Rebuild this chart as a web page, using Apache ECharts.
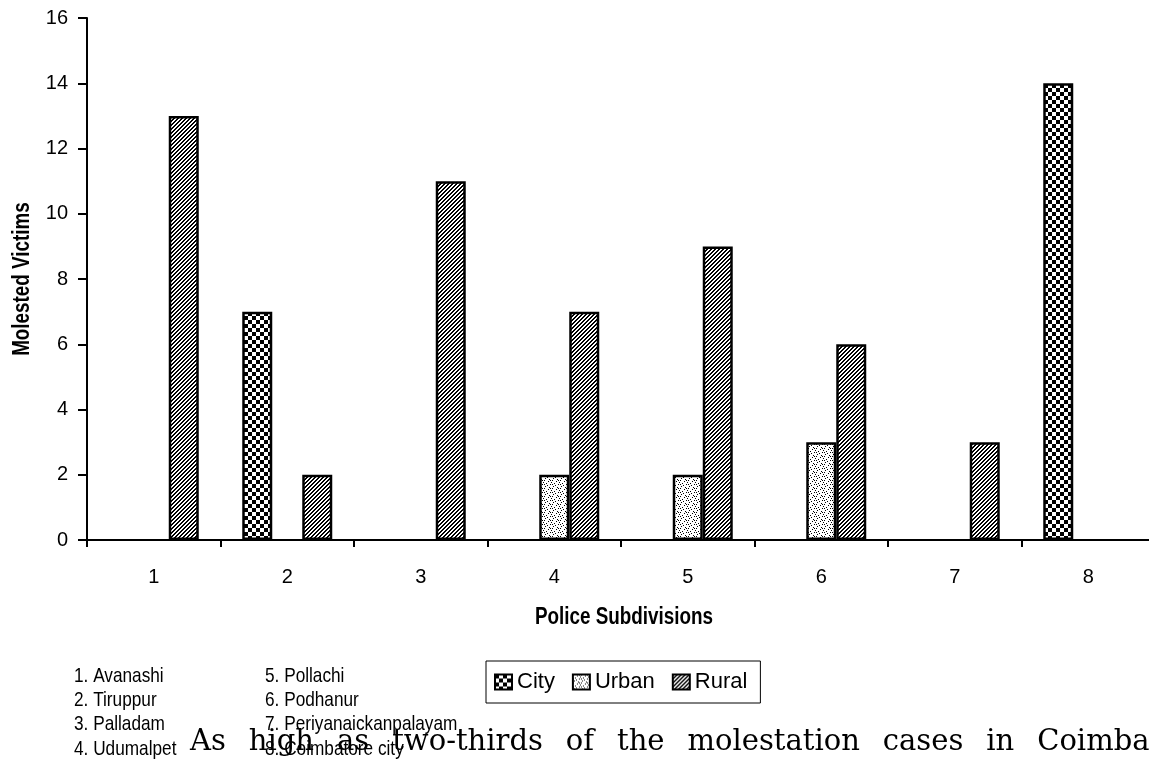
<!DOCTYPE html>
<html>
<head>
<meta charset="utf-8">
<script src="https://cdn.jsdelivr.net/npm/echarts@6/dist/echarts.min.js"></script>
<style>
  html, body { margin: 0; padding: 0; background: #fff; }
  #chart { width: 1149px; height: 760px; }
</style>
</head>
<body>
<div id="chart"></div>
<script>
// Police subdivisions of Coimbatore district and molested victims by area type
const categories = ['1', '2', '3', '4', '5', '6', '7', '8'];
const cityValues  = [null, 7, null, null, null, null, null, 14];
const urbanValues = [null, null, null, 2, 2, 3, null, null];
const ruralValues = [13, 2, 11, 7, 9, 6, 3, null];
const yTicks = { min: 0, max: 16, interval: 2 };
const xTitle = 'Police Subdivisions';
const yTitle = 'Molested Victims';
const subdivisionsLeft  = ['1. Avanashi', '2. Tiruppur', '3. Palladam', '4. Udumalpet'];
const subdivisionsRight = ['5. Pollachi', '6. Podhanur', '7. Periyanaickanpalayam', '8. Coimbatore city'];
const bodyWords = ['As', 'high', 'as', 'two-thirds', 'of', 'the', 'molestation', 'cases', 'in', 'Coimbatore'];

const SANS = '"Liberation Sans", Arial, sans-serif';
const SERIF_FONT = '29px "DejaVu Serif", serif';
const NARROW_SCALE = 0.82;   // condensed look for the sans labels

// Monochrome fill patterns
function makeTile(size, draw) {
  const c = document.createElement('canvas');
  c.width = size; c.height = size;
  const ctx = c.getContext('2d');
  ctx.fillStyle = '#fff';
  ctx.fillRect(0, 0, size, size);
  ctx.fillStyle = '#000';
  draw(ctx);
  return c;
}
const checkerTile = makeTile(8, ctx => {
  ctx.fillRect(0, 0, 4, 4);
  ctx.fillRect(4, 4, 4, 4);
});
const hatchTile = makeTile(4, ctx => {
  // diagonal stripes rising to the right, 2px thick
  for (let i = 0; i < 4; i++) {
    ctx.fillRect(3 - i, i, 1, 1);
    ctx.fillRect((4 - i) % 4, i, 1, 1);
  }
});
const dotTile = makeTile(8, ctx => {
  [[0,0],[4,1],[2,3],[6,4],[1,6],[5,7],[7,2],[3,5],[6,0],[0,4]].forEach(p => ctx.fillRect(p[0], p[1], 1, 1));
});
const pattern = tile => ({ image: tile, repeat: 'repeat' });

const barStyle = tile => ({
  color: pattern(tile),
  borderColor: '#000',
  borderWidth: 2.5
});

const axisFont = { fontFamily: SANS, color: '#000' };

// Condensed sans text element
const narrowText = (text, x, y, font, extra) => Object.assign({
  type: 'text',
  x: x,
  y: y,
  scaleX: NARROW_SCALE,
  style: { text: text, font: font + ' ' + SANS, fill: '#000', verticalAlign: 'middle' }
}, extra || {});

// Key to the subdivision numbers, two columns
const listText = (lines, x) => lines.map((t, i) => narrowText(t, x, 676 + i * 24.3, '21px'));

// Running sentence laid out word by word with wide spacing
function sentenceWords(words, startX, y, gap) {
  const ctx = document.createElement('canvas').getContext('2d');
  ctx.font = SERIF_FONT;
  let x = startX;
  return words.map(w => {
    const el = { type: 'text', x: x, y: y, style: { text: w, font: SERIF_FONT, fill: '#000', verticalAlign: 'middle' } };
    x += ctx.measureText(w).width + gap;
    return el;
  });
}

const chart = echarts.init(document.getElementById('chart'), null, { renderer: 'canvas' });

chart.setOption({
  animation: false,
  backgroundColor: '#fff',
  grid: { left: 87, top: 18, width: 1068, height: 522, containLabel: false, outerBoundsMode: 'none' },
  legend: {
    left: 486,
    top: 661,
    itemWidth: 17,
    itemHeight: 15,
    itemGap: 17,
    padding: [10, 13, 10, 8],
    borderColor: '#000',
    borderWidth: 1,
    icon: 'rect',
    textStyle: { fontSize: 22, fontFamily: SANS, color: '#000' },
    data: ['City', 'Urban', 'Rural']
  },
  xAxis: {
    type: 'category',
    data: categories,
    axisLine: { lineStyle: { color: '#000', width: 2 } },
    axisTick: { show: true, length: 7, inside: false, lineStyle: { color: '#000', width: 2 } },
    axisLabel: Object.assign({ fontSize: 20, margin: 27 }, axisFont)
  },
  yAxis: {
    type: 'value',
    min: yTicks.min,
    max: yTicks.max,
    interval: yTicks.interval,
    splitLine: { show: false },
    axisLine: { show: true, lineStyle: { color: '#000', width: 2 } },
    axisTick: { show: true, length: 9, lineStyle: { color: '#000', width: 2 } },
    axisLabel: Object.assign({ fontSize: 20, margin: 19 }, axisFont)
  },
  series: [
    { name: 'City',  type: 'bar', data: cityValues,  barGap: '0%', barWidth: 30, itemStyle: barStyle(checkerTile) },
    { name: 'Urban', type: 'bar', data: urbanValues, barGap: '0%', barWidth: 30, itemStyle: barStyle(dotTile) },
    { name: 'Rural', type: 'bar', data: ruralValues, barGap: '0%', barWidth: 30, itemStyle: barStyle(hatchTile) }
  ],
  graphic: [
    narrowText(xTitle, 624, 618, 'bold 23px', { style: { text: xTitle, font: 'bold 23px ' + SANS, fill: '#000', align: 'center', verticalAlign: 'middle' } }),
    narrowText(yTitle, 23, 279, 'bold 23px', { rotation: Math.PI / 2, style: { text: yTitle, font: 'bold 23px ' + SANS, fill: '#000', align: 'center', verticalAlign: 'middle' } }),
    ...listText(subdivisionsLeft, 74),
    ...listText(subdivisionsRight, 265),
    ...sentenceWords(bodyWords, 190, 742, 23)
  ]
});
</script>
</body>
</html>
